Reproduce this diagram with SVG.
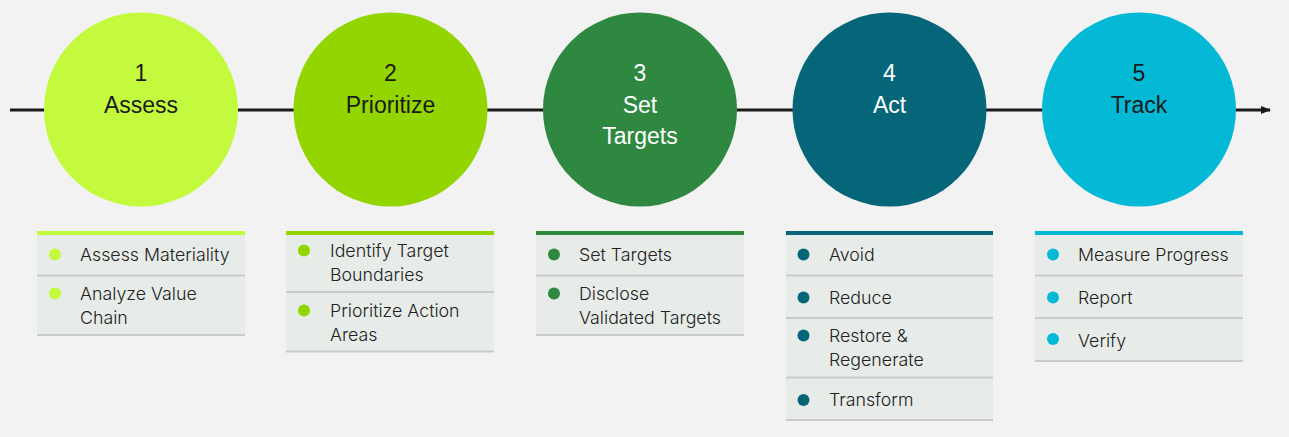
<svg xmlns="http://www.w3.org/2000/svg" width="1289" height="437" viewBox="0 0 1289 437">
<defs>
<style>
.ct{font-family:"Liberation Sans",Arial,sans-serif;font-size:23px;text-anchor:middle;}
.dk{fill:#1a1a1a;}
.wt{fill:#ffffff;}
.box{fill:#e8ece8;}
.sep{stroke:#c9cbc9;stroke-width:2;}
.lt{font-family:Inter,"Liberation Sans",sans-serif;font-size:17.8px;font-weight:300;fill:#222222;}
.c1{fill:#c3fa3e;}
.c2{fill:#93d500;}
.c3{fill:#2f8840;}
.c4{fill:#056679;}
.c5{fill:#04b9d6;}
</style>
<marker id="arr" markerWidth="10" markerHeight="8" refX="9" refY="4" orient="auto" markerUnits="userSpaceOnUse">
<path d="M0,0 L10,4 L0,8 z" fill="#1a1a1a"/>
</marker>
</defs>
<rect width="1289" height="437" fill="#f2f2f2"/>
<g id="connectors">
<line x1="10" y1="110" x2="1270" y2="110" stroke="#1a1a1a" stroke-width="3" marker-end="url(#arr)"/>
</g>
<g id="step1">
<circle class="c1" cx="141" cy="109.5" r="97"/>
<text class="ct dk" x="141" y="81">1</text>
<text class="ct dk" x="141" y="113">Assess</text>
</g>
<g id="step2">
<circle class="c2" cx="390.5" cy="109.5" r="97"/>
<text class="ct dk" x="390.5" y="81">2</text>
<text class="ct dk" x="390.5" y="113">Prioritize</text>
</g>
<g id="step3">
<circle class="c3" cx="640" cy="109.5" r="97"/>
<text class="ct wt" x="640" y="81">3</text>
<text class="ct wt" x="640" y="113">Set</text>
<text class="ct wt" x="640" y="144">Targets</text>
</g>
<g id="step4">
<circle class="c4" cx="889.5" cy="109.5" r="97"/>
<text class="ct wt" x="889.5" y="81">4</text>
<text class="ct wt" x="889.5" y="113">Act</text>
</g>
<g id="step5">
<circle class="c5" cx="1139" cy="109.5" r="97"/>
<text class="ct dk" x="1139" y="81">5</text>
<text class="ct dk" x="1139" y="113">Track</text>
</g>
<g id="list1">
<rect class="box" x="37" y="231" width="208" height="104"/>
<rect class="c1" x="37" y="231" width="208" height="4"/>
<line class="sep" x1="37" y1="275.5" x2="245" y2="275.5"/>
<line class="sep" x1="37" y1="335" x2="245" y2="335"/>
<circle class="c1" cx="55" cy="254.5" r="6"/>
<text class="lt" x="80" y="261">Assess Materiality</text>
<circle class="c1" cx="55" cy="293.5" r="6"/>
<text class="lt" x="80" y="300">Analyze Value</text>
<text class="lt" x="80" y="323.5">Chain</text>
</g>
<g id="list2">
<rect class="box" x="286" y="231" width="208" height="121"/>
<rect class="c2" x="286" y="231" width="208" height="4"/>
<line class="sep" x1="286" y1="292" x2="494" y2="292"/>
<line class="sep" x1="286" y1="351.5" x2="494" y2="351.5"/>
<circle class="c2" cx="304" cy="250.5" r="6"/>
<text class="lt" x="330" y="257">Identify Target</text>
<text class="lt" x="330" y="280.5">Boundaries</text>
<circle class="c2" cx="304" cy="310.5" r="6"/>
<text class="lt" x="330" y="317">Prioritize Action</text>
<text class="lt" x="330" y="340.5">Areas</text>
</g>
<g id="list3">
<rect class="box" x="536" y="231" width="208" height="104"/>
<rect class="c3" x="536" y="231" width="208" height="4"/>
<line class="sep" x1="536" y1="275.5" x2="744" y2="275.5"/>
<line class="sep" x1="536" y1="335" x2="744" y2="335"/>
<circle class="c3" cx="554" cy="254.5" r="6"/>
<text class="lt" x="579" y="261">Set Targets</text>
<circle class="c3" cx="554" cy="293.5" r="6"/>
<text class="lt" x="579" y="300">Disclose</text>
<text class="lt" x="579" y="323.5">Validated Targets</text>
</g>
<g id="list4">
<rect class="box" x="786" y="231" width="207" height="189"/>
<rect class="c4" x="786" y="231" width="207" height="4"/>
<line class="sep" x1="786" y1="275.5" x2="993" y2="275.5"/>
<line class="sep" x1="786" y1="318" x2="993" y2="318"/>
<line class="sep" x1="786" y1="377.5" x2="993" y2="377.5"/>
<line class="sep" x1="786" y1="420" x2="993" y2="420"/>
<circle class="c4" cx="803.5" cy="254.5" r="6"/>
<text class="lt" x="829" y="261">Avoid</text>
<circle class="c4" cx="803.5" cy="297.5" r="6"/>
<text class="lt" x="829" y="304">Reduce</text>
<circle class="c4" cx="803.5" cy="335.5" r="6"/>
<text class="lt" x="829" y="342">Restore &amp;</text>
<text class="lt" x="829" y="365.5">Regenerate</text>
<circle class="c4" cx="803.5" cy="400" r="6"/>
<text class="lt" x="829" y="406">Transform</text>
</g>
<g id="list5">
<rect class="box" x="1035" y="231" width="208" height="130"/>
<rect class="c5" x="1035" y="231" width="208" height="4"/>
<line class="sep" x1="1035" y1="275.5" x2="1243" y2="275.5"/>
<line class="sep" x1="1035" y1="318" x2="1243" y2="318"/>
<line class="sep" x1="1035" y1="361" x2="1243" y2="361"/>
<circle class="c5" cx="1053" cy="254.5" r="6"/>
<text class="lt" x="1078" y="261">Measure Progress</text>
<circle class="c5" cx="1053" cy="297.5" r="6"/>
<text class="lt" x="1078" y="304">Report</text>
<circle class="c5" cx="1053" cy="339" r="6"/>
<text class="lt" x="1078" y="346.5">Verify</text>
</g>
</svg>
